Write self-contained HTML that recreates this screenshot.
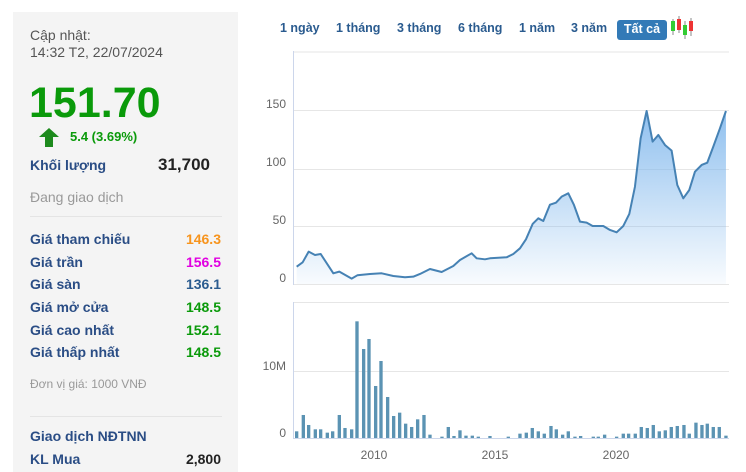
<!DOCTYPE html>
<html><head><meta charset="utf-8"><style>
body{margin:0;width:746px;height:468px;background:#fff;font-family:"Liberation Sans","Noto Sans CJK SC",sans-serif;position:relative;overflow:hidden}
.p{position:absolute;left:13px;top:12px;width:225px;height:460px;background:#f4f4f4}
.a{position:absolute;white-space:nowrap}
.l{color:#2a4d85;font-weight:bold;font-size:14px;left:30px}
.v{font-weight:bold;font-size:14px;right:525px;text-align:right}
.hr{position:absolute;left:30px;width:192px;height:1px;background:#e4e4e4}
.b{position:absolute;top:21px;font-size:12.5px;font-weight:bold;color:#2a5b8f}
</style></head><body>
<div class="p"></div>
<div class="a" style="left:30px;top:27px;font-size:14px;color:#555;line-height:17px">Cập nhật:<br>14:32 T2, 22/07/2024</div>
<div class="a" style="left:29px;top:79px;font-size:43px;font-weight:bold;color:#0a9a0a;line-height:48px">151.70</div>
<svg class="a" style="left:39px;top:128px" width="20" height="20"><polygon points="10,0 20,9 14,9 14,19 6,19 6,9 0,9" fill="#1d8a1d"/></svg>
<div class="a" style="left:70px;top:129px;font-size:13px;font-weight:bold;color:#0a9a0a">5.4 (3.69%)</div>
<div class="a l" style="top:157px">Khối lượng</div>
<div class="a" style="left:158px;top:155px;font-size:17px;font-weight:bold;color:#222">31,700</div>
<div class="a" style="left:30px;top:189px;font-size:14px;color:#999">Đang giao dịch</div>
<div class="hr" style="top:216px"></div>
<div class="a l" style="top:231px">Giá tham chiếu</div><div class="a v" style="top:231px;color:#f7941d">146.3</div>
<div class="a l" style="top:254px">Giá trần</div><div class="a v" style="top:254px;color:#e100e1">156.5</div>
<div class="a l" style="top:276px">Giá sàn</div><div class="a v" style="top:276px;color:#2a5b8f">136.1</div>
<div class="a l" style="top:299px">Giá mở cửa</div><div class="a v" style="top:299px;color:#0a9a0a">148.5</div>
<div class="a l" style="top:322px">Giá cao nhất</div><div class="a v" style="top:322px;color:#0a9a0a">152.1</div>
<div class="a l" style="top:344px">Giá thấp nhất</div><div class="a v" style="top:344px;color:#0a9a0a">148.5</div>
<div class="a" style="left:30px;top:377px;font-size:12px;color:#999">Đơn vị giá: 1000 VNĐ</div>
<div class="hr" style="top:416px"></div>
<div class="a l" style="top:428px">Giao dịch NĐTNN</div>
<div class="a l" style="top:451px">KL Mua</div><div class="a v" style="top:451px;color:#222">2,800</div>

<div class="b" style="left:280px">1 ngày</div>
<div class="b" style="left:336px">1 tháng</div>
<div class="b" style="left:397px">3 tháng</div>
<div class="b" style="left:458px">6 tháng</div>
<div class="b" style="left:519px">1 năm</div>
<div class="b" style="left:571px">3 năm</div>
<div class="a" style="left:617px;top:20px;width:50px;height:20px;background:#337ab7;border-radius:3px;color:#fff;font-size:12.5px;font-weight:bold;text-align:center;line-height:19px">Tất cả</div>
<svg class="a" style="left:669px;top:15px" width="26" height="26">
<line x1="4" y1="4" x2="4" y2="20" stroke="#888"/><rect x="2" y="6" width="4" height="10" fill="#3c3"/>
<line x1="10" y1="1" x2="10" y2="18" stroke="#888"/><rect x="8" y="4" width="4" height="11" fill="#e33"/>
<line x1="16" y1="6" x2="16" y2="24" stroke="#888"/><rect x="14" y="10" width="4" height="10" fill="#3c3"/>
<line x1="22" y1="3" x2="22" y2="21" stroke="#888"/><rect x="20" y="6" width="4" height="10" fill="#e33"/>
</svg>

<svg class="a" style="left:0;top:0" width="746" height="468">
<defs><linearGradient id="g" x1="0" y1="0" x2="0" y2="1"><stop offset="0" stop-color="#7cb5ec" stop-opacity=".85"/><stop offset="1" stop-color="#7cb5ec" stop-opacity=".05"/></linearGradient></defs>
<g stroke="#e6e6e6"><line x1="293" y1="52" x2="729" y2="52"/><line x1="293" y1="110.5" x2="729" y2="110.5"/><line x1="293" y1="169.5" x2="729" y2="169.5"/><line x1="293" y1="226.5" x2="729" y2="226.5"/><line x1="293" y1="284.5" x2="729" y2="284.5"/>
<line x1="293" y1="302.5" x2="729" y2="302.5"/><line x1="293" y1="371.5" x2="729" y2="371.5"/></g>
<line x1="293.5" y1="51" x2="293.5" y2="285" stroke="#ccd6eb"/>
<line x1="293.5" y1="302" x2="293.5" y2="438" stroke="#ccd6eb"/>
<line x1="293" y1="438.5" x2="729" y2="438.5" stroke="#ccd6eb"/>
<g font-size="12" fill="#666" text-anchor="end"><text x="286" y="108">150</text><text x="286" y="166">100</text><text x="286" y="224">50</text><text x="286" y="282">0</text><text x="286" y="370">10M</text><text x="286" y="437">0</text></g>
<g font-size="12" fill="#666" text-anchor="middle"><text x="374" y="459">2010</text><text x="495" y="459">2015</text><text x="616" y="459">2020</text></g>
<g transform="translate(250,0) scale(0.3333)">
<path fill="url(#g)" d="M140,800 L158,787 176,755 195,765 212,762 250,820 268,815 305,836 322,826 360,822 395,820 430,828 465,832 490,830 510,822 540,807 575,816 610,798 630,780 665,760 680,775 705,778 720,775 770,772 790,762 810,745 828,718 848,672 865,655 880,663 900,614 918,608 935,590 955,580 972,615 990,665 1010,668 1028,678 1060,678 1080,690 1100,697 1120,678 1138,642 1155,560 1172,415 1190,333 1208,425 1225,405 1245,435 1265,452 1282,555 1300,595 1318,570 1335,515 1355,495 1372,488 1390,440 1410,385 1428,333 L1428,852 L140,852Z"/>
<polyline fill="none" stroke="#4682b4" stroke-width="6" stroke-linejoin="round" points="140,800 158,787 176,755 195,765 212,762 250,820 268,815 305,836 322,826 360,822 395,820 430,828 465,832 490,830 510,822 540,807 575,816 610,798 630,780 665,760 680,775 705,778 720,775 770,772 790,762 810,745 828,718 848,672 865,655 880,663 900,614 918,608 935,590 955,580 972,615 990,665 1010,668 1028,678 1060,678 1080,690 1100,697 1120,678 1138,642 1155,560 1172,415 1190,333 1208,425 1225,405 1245,435 1265,452 1282,555 1300,595 1318,570 1335,515 1355,495 1372,488 1390,440 1410,385 1428,333"/>
</g>
<g transform="translate(250,290) scale(0.3333)" fill="#5b93b3" id="bars"></g>
</svg>
<script>
var d=[[140,424],[160,375],[176,405],[196,418],[212,418],[232,428],[248,424],[268,375],[285,414],[305,418],[321,94],[341,177],[357,147],[377,288],[393,213],[413,321],[431,378],[449,368],[467,401],[485,411],[503,388],[522,375],[540,434],[576,440],[595,411],[612,438],[630,421],[648,437],[667,437],[685,440],[720,438],[775,440],[810,431],[829,428],[847,414],[865,424],[883,431],[903,408],[919,418],[938,434],[955,424],[975,440],[992,438],[1030,440],[1045,440],[1064,434],[1100,440],[1120,431],[1136,431],[1156,431],[1174,411],[1192,414],[1210,405],[1228,424],[1246,421],[1264,411],[1282,408],[1302,405],[1318,431],[1338,398],[1356,405],[1372,401],[1390,411],[1408,411],[1428,437]];
var g=document.getElementById('bars'),s='';
d.forEach(function(p){s+='<rect x="'+(p[0]-5)+'" y="'+p[1]+'" width="10" height="'+(444-p[1])+'"/>';});
g.innerHTML=s;
</script>
</body></html>
